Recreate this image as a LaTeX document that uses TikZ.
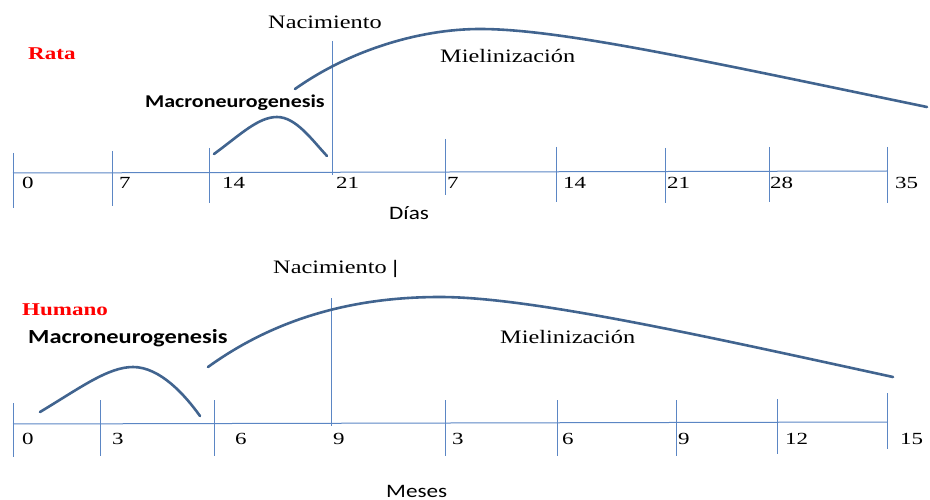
\documentclass[tikz,border=0pt]{standalone}
\usepackage{fontspec}
\setmainfont[FakeStretch=1.28]{Liberation Serif}
\newfontfamily\numfont[FakeStretch=1.35]{Liberation Serif}
\newfontfamily\labfont[FakeStretch=1.22]{Carlito}
\definecolor{curveblue}{HTML}{41648F}
\definecolor{axisblue}{HTML}{5B86C4}

\begin{document}
\begin{tikzpicture}[
  x=1pt, y=-1pt,
  every node/.style={inner sep=0pt, anchor=base west},
  axis/.style={draw=axisblue, line width=1pt},
  curve/.style={draw=curveblue, line width=2.6pt, line cap=round},
  num/.style={font=\numfont\fontsize{17}{19}\selectfont},
  serif/.style={font=\fontsize{19}{22}\selectfont},
  species/.style={font=\bfseries\fontsize{18}{22}\selectfont, text=red},
  phase/.style={font=\labfont\bfseries\fontsize{#1}{22}\selectfont},
  unit/.style={font=\labfont\fontsize{19}{22}\selectfont}
]
\useasboundingbox (0,0) rectangle (930,500);

% rata
\node[species] (rata) at (28,60) {Rata};
\node[serif] (nacrata) at (268,29) {Nacimiento};
\node[serif] (mielrata) at (440,63) {Mielinización};
\node[phase=18] (macrata) at (145,108) {Macroneurogenesis};
\draw[axis] (13,173) -- (887,171);
\draw[axis] (13,153) -- (13,208);
\draw[axis] (112,151) -- (112,206);
\draw[axis] (209,148) -- (209,203);
\draw[axis] (332,41) -- (332,175);
\draw[axis] (445,139) -- (445,195);
\draw[axis] (556,147) -- (556,202);
\draw[axis] (665,148) -- (665,203);
\draw[axis] (769,147) -- (769,202);
\draw[axis] (887,147) -- (887,203);
\node[num] (r0) at (22,189) {0};
\node[num] (r7) at (119,189) {7};
\node[num] (r14) at (222,189) {14};
\node[num] (r21) at (336,189) {21};
\node[num] (r28) at (447,189) {7};
\node[num] (r35) at (563,189) {14};
\node[num] (r42) at (667,189) {21};
\node[num] (r49) at (770,189) {28};
\node[num] (r56) at (895,189) {35};
\node[unit] (dias) at (389,220) {Días};
\draw[curve] (214,154) .. controls (240,135) and (258,117) .. (277,117) .. controls (296,117) and (312,140) .. (327,156);
\draw[curve] (295,89) .. controls (350,50) and (420,29) .. (480,29) .. controls (560,29) and (700,60) .. (927,107);

% humano
\node[species] (humano) at (22,315) {Humano};
\node[serif] (nachum) at (273,273) {Nacimiento \textbf{|}};
\node[serif] (mielhum) at (500,343) {Mielinización};
\node[phase=20] (machum) at (28,343) {Macroneurogenesis};
\draw[axis] (13,424) -- (887,422);
\draw[axis] (13,403) -- (13,457);
\draw[axis] (100,400) -- (100,456);
\draw[axis] (214,400) -- (214,456);
\draw[axis] (331,298) -- (331,426);
\draw[axis] (445,400) -- (445,456);
\draw[axis] (557,400) -- (557,456);
\draw[axis] (676,400) -- (676,456);
\draw[axis] (777,399) -- (777,454);
\draw[axis] (887,393) -- (887,449);
\node[num] (h0) at (22,444) {0};
\node[num] (h3) at (112,444) {3};
\node[num] (h6) at (235,444) {6};
\node[num] (h9) at (333,444) {9};
\node[num] (h12) at (452,444) {3};
\node[num] (h15) at (562,444) {6};
\node[num] (h18) at (678,444) {9};
\node[num] (h21) at (785,444) {12};
\node[num] (h24) at (900,444) {15};
\node[unit] (meses) at (386,497) {Meses};
\draw[curve] (40,412) .. controls (80,388) and (108,367) .. (133,367) .. controls (160,367) and (185,395) .. (200,416);
\draw[curve] (208,367) .. controls (280,315) and (360,297) .. (440,297) .. controls (530,297) and (700,335) .. (893,377);
\end{tikzpicture}
\end{document}
